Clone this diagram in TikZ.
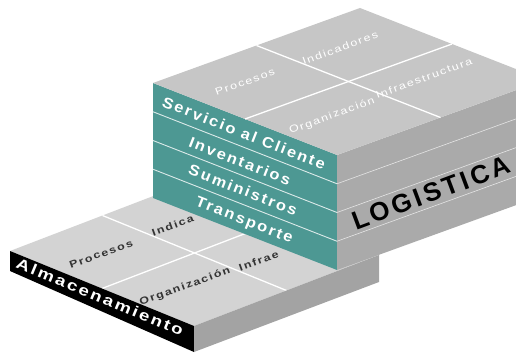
\documentclass[tikz,border=0pt]{standalone}
\usepackage{fontspec}
\setmainfont{Liberation Sans}
\newfontfamily\spaced[LetterSpace=12]{Liberation Sans}
\usetikzlibrary{calc}
\definecolor{tealface}{HTML}{4D9893}
\definecolor{topgray}{HTML}{C6C6C6}
\definecolor{sidegray}{HTML}{AAAAAA}
\definecolor{floorgray}{HTML}{D3D3D3}
\definecolor{floorside}{HTML}{A3A3A3}
\newcommand{\wide}[2][1.25]{\scalebox{#1}[1]{#2}}

\begin{document}
\begin{tikzpicture}[x=1pt, y=-1pt, every node/.style={inner sep=0pt},
  grid/.style={draw=white, line width=1.3pt},
  toplbl/.style={white, rotate=20, font={\spaced\fontsize{10}{10}\selectfont}},
  floorlbl/.style={black!80, rotate=20, font={\spaced\bfseries\fontsize{10}{10}\selectfont}},
  bandlbl/.style={white, rotate=-21.5, font={\spaced\bfseries\fontsize{15}{15}\selectfont}}]
			\clip (0,0) rectangle (516,358);
			\coordinate (a) at (10,251);
			\coordinate (ab) at (195,180);
			\coordinate (e) at (379,255);
			\coordinate (d) at (194,326);
			\coordinate (a2) at (10,271);
			\coordinate (d2) at (194,352);
			\coordinate (e2) at (379,282);
			\coordinate (tl) at (153,83);
			\coordinate (tb) at (360,8);
			\coordinate (tr) at (544,80);
			\coordinate (tf) at (337,155);
			\coordinate (bl) at (153,198);
			\coordinate (bf) at (337,270);
			\coordinate (br) at (544,195);
			
			\fill[floorgray] (a) -- (ab) -- (e) -- (d) -- cycle;
			\path[grid] ($(a)!0.5!(ab)$) -- ($(d)!0.5!(e)$);
			\path[grid] ($(a)!0.5!(d)$) -- ($(ab)!0.5!(e)$);
			\node[floorlbl] (fproc) at (101,254){\wide{Procesos}};
			\node[floorlbl, anchor=west] (find) at (152,233){\wide{Indica}};
			\node[floorlbl] (forg) at (185,287){\wide{Organización}};
			\node[floorlbl, anchor=west] (finf) at (239,268){\wide{Infrae}};
			\fill[black] (a) -- (d) -- (d2) -- (a2) -- cycle;
			\fill[floorside] (d) -- (e) -- (e2) -- (d2) -- cycle;
			\node[white, rotate=-22.5, font={\spaced\bfseries\fontsize{15}{15}\selectfont}] (alm) at (100,297){\wide{Almacenamiento}};
			
			\fill[tealface] (tl) -- (tf) -- (bf) -- (bl) -- cycle;
			\fill[sidegray] (tf) -- (tr) -- (br) -- (bf) -- cycle;
			\foreach \k in {1,2,3}{
				\draw[white!80!tealface, line width=0.9pt] ($(tl)!\k/4!(bl)$) -- ($(tf)!\k/4!(bf)$);
				\draw[white!70!sidegray, line width=0.6pt] ($(tf)!\k/4!(bf)$) -- ($(tr)!\k/4!(br)$);
			}
			\node[bandlbl] (serv) at (244,133){\wide[1.1]{Servicio al Cliente}};
			\node[bandlbl] (inv) at (240,161){\wide[1.1]{Inventarios}};
			\node[bandlbl] (sum) at (243,190){\wide[1.1]{Suministros}};
			\node[bandlbl] (trans) at (244,221){\wide[1.1]{Transporte}};
			\node[black, rotate=20.5, font={\spaced\bfseries\fontsize{26}{26}\selectfont}] (log) at (431,193){LOGISTICA};
			
			\fill[topgray] (tl) -- (tb) -- (tr) -- (tf) -- cycle;
			\path[grid] ($(tl)!0.5!(tb)$) -- ($(tf)!0.5!(tr)$);
			\path[grid] ($(tl)!0.5!(tf)$) -- ($(tb)!0.5!(tr)$);
			\node[toplbl] (proc) at (245,82){\wide{Procesos}};
			\node[toplbl] (ind) at (340,48){\wide{Indicadores}};
			\node[toplbl] (org) at (332,116){\wide{Organización}};
			\node[toplbl] (inf) at (424,78){\wide{Infraestructura}};
\end{tikzpicture}
\end{document}
